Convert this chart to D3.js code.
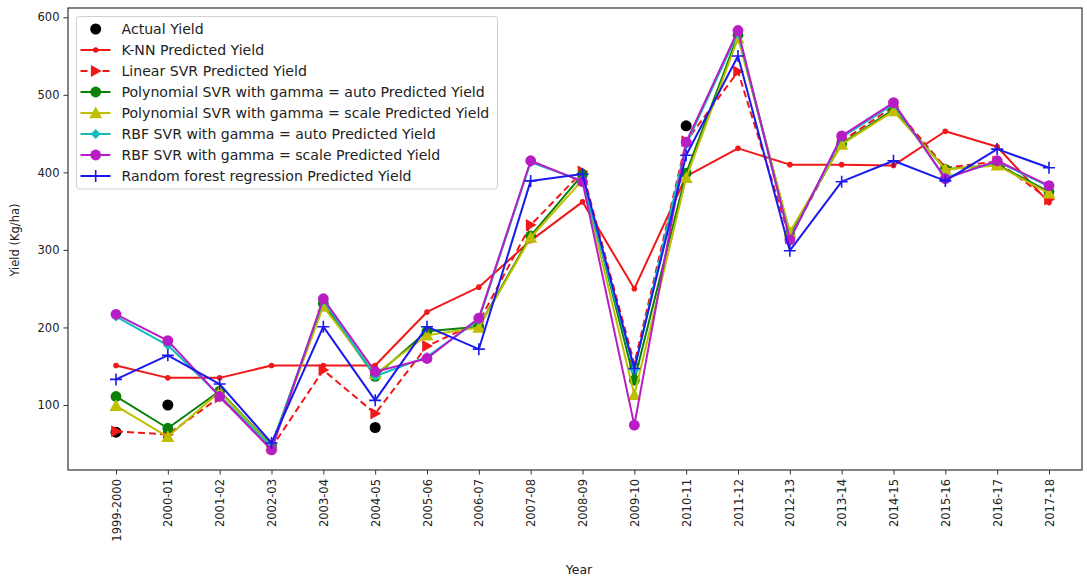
<!DOCTYPE html>
<html>
<head>
<meta charset="utf-8">
<script src="https://cdn.jsdelivr.net/npm/d3@7/dist/d3.min.js"></script>
<style>
  html, body { margin: 0; padding: 0; background: #fff; }
  svg { display: block; font-family: "DejaVu Sans", sans-serif; }
</style>
</head>
<body>
<svg id="chart" width="1087" height="579"></svg>
<script>
// Crop years (x axis categories)
const years = ["1999-2000","2000-01","2001-02","2002-03","2003-04","2004-05","2005-06",
  "2006-07","2007-08","2008-09","2009-10","2010-11","2011-12","2012-13","2013-14",
  "2014-15","2015-16","2016-17","2017-18"];

// Observed yield (Kg/ha); null where no observation is plotted
const actualYield = [65, 100, null, null, null, 71, null, null, null, null, null, 460,
  null, null, null, null, null, null, null];

// Model predictions (Kg/ha)
const knnPred       = [151, 135, 135, 151, 151, 151, 220, 252, 312, 362, 250, 395, 431, 410, 410, 409, 453, 433, 361];
const linearSvrPred = [66, 62, 110, 45, 145, 89, 176, 207, 332, 401, 153, 440, 530, 315, 440, 485, 406, 414, 365];
const polyAutoPred  = [111, 70, 118, 48, 231, 137, 195, 201, 318, 397, 132, 399, 577, 321, 437, 481, 404, 410, 375];
const polyScalePred = [99, 59, 117, 47, 227, 140, 190, 200, 316, 390, 113, 393, 573, 323, 436, 479, 404, 409, 373];
const rbfAutoPred   = [214, 177, 112, 46, 235, 137, 162, 210, 413, 389, 145, 436, 580, 314, 445, 488, 393, 414, 382];
const rbfScalePred  = [217, 183, 111, 42, 237, 143, 160, 212, 415, 388, 74, 439, 583, 313, 447, 490, 392, 415, 383];
const rfPred        = [133, 164, 127, 51, 201, 106, 201, 172, 389, 398, 147, 422, 550, 299, 388, 415, 389, 430, 406];

const yTicks = [100, 200, 300, 400, 500, 600];

const series = [
  { name: "K-NN Predicted Yield", values: knnPred, color: "#f01818", marker: "point", dash: null },
  { name: "Linear SVR Predicted Yield", values: linearSvrPred, color: "#f01818", marker: "triRight", dash: "7,4" },
  { name: "Polynomial SVR with gamma = auto Predicted Yield", values: polyAutoPred, color: "#0a800a", marker: "circle", dash: null },
  { name: "Polynomial SVR with gamma = scale Predicted Yield", values: polyScalePred, color: "#bfbf00", marker: "triUp", dash: null },
  { name: "RBF SVR with gamma = auto Predicted Yield", values: rbfAutoPred, color: "#10bcbc", marker: "diamond", dash: null },
  { name: "RBF SVR with gamma = scale Predicted Yield", values: rbfScalePred, color: "#b81cc4", marker: "circle", dash: null },
  { name: "Random forest regression Predicted Yield", values: rfPred, color: "#1a1aee", marker: "plus", dash: null }
];

const svg = d3.select("#chart");
const frame = { left: 68, top: 8, right: 1082, bottom: 470 };

const x = d3.scaleLinear().domain([0, years.length - 1]).range([116, 1049]);
const y = d3.scaleLinear().domain([100, 600]).range([405, 17.3]);

// Draws one marker of the given kind centred at (cx, cy)
function drawMarker(g, kind, cx, cy, color) {
  switch (kind) {
    case "point":
      g.append("circle").attr("cx", cx).attr("cy", cy).attr("r", 2.8).attr("fill", color);
      break;
    case "circle":
      g.append("circle").attr("cx", cx).attr("cy", cy).attr("r", 5.4).attr("fill", color);
      break;
    case "dot":
      g.append("circle").attr("cx", cx).attr("cy", cy).attr("r", 5.5).attr("fill", color);
      break;
    case "triUp": {
      const s = 6.5;
      g.append("path").attr("d", `M${cx},${cy - s} L${cx + s},${cy + s * 0.8} L${cx - s},${cy + s * 0.8}Z`).attr("fill", color);
      break;
    }
    case "triRight": {
      const s = 6;
      g.append("path").attr("d", `M${cx + s},${cy} L${cx - s * 0.8},${cy - s} L${cx - s * 0.8},${cy + s}Z`).attr("fill", color);
      break;
    }
    case "diamond": {
      const s = 5;
      g.append("path").attr("d", `M${cx},${cy - s} L${cx + s},${cy} L${cx},${cy + s} L${cx - s},${cy}Z`).attr("fill", color);
      break;
    }
    case "plus": {
      const s = 6;
      g.append("path").attr("d", `M${cx - s},${cy} H${cx + s} M${cx},${cy - s} V${cy + s}`)
        .attr("stroke", color).attr("stroke-width", 1.6).attr("fill", "none");
      break;
    }
  }
}

// Axes frame
const axisColor = "#333";
svg.append("rect")
  .attr("x", frame.left).attr("y", frame.top)
  .attr("width", frame.right - frame.left).attr("height", frame.bottom - frame.top)
  .attr("fill", "none").attr("stroke", axisColor).attr("stroke-width", 1.2);

// Y axis
const yAxis = d3.axisLeft(y).tickValues(yTicks).tickSize(4.5).tickPadding(4);
const gy = svg.append("g").attr("transform", `translate(${frame.left},0)`).call(yAxis);
gy.select(".domain").remove();
gy.selectAll("line").attr("stroke", axisColor);
gy.selectAll("text").attr("font-size", 11.5).attr("fill", "#222").attr("font-family", "DejaVu Sans");

// X axis
const xAxis = d3.axisBottom(x).tickValues(d3.range(years.length)).tickFormat(i => years[i]).tickSize(4.5);
const gx = svg.append("g").attr("transform", `translate(0,${frame.bottom})`).call(xAxis);
gx.select(".domain").remove();
gx.selectAll("line").attr("stroke", axisColor);
gx.selectAll("text")
  .attr("font-size", 11.5).attr("fill", "#222").attr("font-family", "DejaVu Sans")
  .attr("text-anchor", "end").attr("dy", null)
  .attr("dominant-baseline", "central")
  .attr("transform", "translate(0,4) rotate(-90)")
  .attr("x", -5).attr("y", 0);

// Axis titles
svg.append("text").attr("x", 579).attr("y", 574).attr("text-anchor", "middle")
  .attr("font-size", 12.5).attr("fill", "#222").text("Year");
svg.append("text").attr("transform", "translate(19,240) rotate(-90)").attr("text-anchor", "middle")
  .attr("font-size", 11.5).attr("fill", "#222").text("Yield (Kg/ha)");

// Plot content
const plot = svg.append("g");

// Observed yield drawn beneath the prediction lines
const gActual = plot.append("g");
actualYield.forEach((v, i) => {
  if (v != null) drawMarker(gActual, "dot", x(i), y(v), "#000");
});

const line = d3.line().x((d, i) => x(i)).y(d => y(d));
series.forEach(s => {
  const g = plot.append("g");
  g.append("path").datum(s.values).attr("d", line)
    .attr("fill", "none").attr("stroke", s.color).attr("stroke-width", 2)
    .attr("stroke-dasharray", s.dash).attr("stroke-linejoin", "round");
  s.values.forEach((v, i) => drawMarker(g, s.marker, x(i), y(v), s.color));
});

// Legend
const legend = svg.append("g");
legend.append("rect").attr("x", 76.5).attr("y", 16.5).attr("width", 421).attr("height", 172.5)
  .attr("rx", 3).attr("fill", "#fff").attr("fill-opacity", 0.85)
  .attr("stroke", "#d0d0d0").attr("stroke-width", 1);

const legendItems = [{ name: "Actual Yield", color: "#000", marker: "dot", line: false }]
  .concat(series.map(s => ({ name: s.name, color: s.color, marker: s.marker, dash: s.dash, line: true })));

legendItems.forEach((item, k) => {
  const cy = 29 + k * 21;
  const g = legend.append("g");
  if (item.line) {
    g.append("line").attr("x1", 80.5).attr("x2", 110.5).attr("y1", cy).attr("y2", cy)
      .attr("stroke", item.color).attr("stroke-width", 2).attr("stroke-dasharray", item.dash);
  }
  drawMarker(g, item.marker, 95.7, cy, item.color);
  g.append("text").attr("x", 121.5).attr("y", cy).attr("dominant-baseline", "central")
    .attr("font-size", 14.1).attr("fill", "#222").text(item.name);
});
</script>
</body>
</html>
